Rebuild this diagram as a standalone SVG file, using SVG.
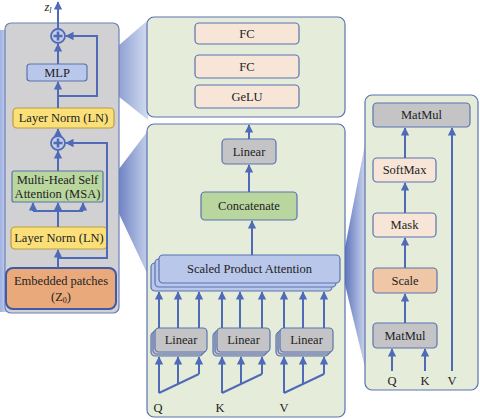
<svg xmlns="http://www.w3.org/2000/svg" width="480" height="419" viewBox="0 0 480 419">
<defs>
<linearGradient id="wedge" x1="0" y1="0" x2="1" y2="0">
<stop offset="0" stop-color="#4a62b2"/>
<stop offset="1" stop-color="#d2dcf1"/>
</linearGradient>
<linearGradient id="lstrip" x1="0" y1="0" x2="1" y2="0">
<stop offset="0" stop-color="#9fb1e0"/>
<stop offset="1" stop-color="#dde4f5"/>
</linearGradient>
<marker id="ah" viewBox="0 0 10 10" refX="9" refY="5" markerWidth="4.2" markerHeight="4.2" orient="auto" markerUnits="strokeWidth">
<path d="M0,0 L10,5 L0,10 z" fill="#4f6bb8"/>
</marker>
</defs>
<style>
text{font-size:12.5px;fill:#222;text-anchor:middle;dominant-baseline:central}
.panel{fill:#e5edda;stroke:#5a72b0;stroke-width:1.2}
.box{stroke:#5a72b0;stroke-width:1.2}
.gray{fill:#c4c4c6}
.peach{fill:#f7e5d8}
.orange{fill:#efc6a6}
.green{fill:#b9d69f}
.blue{fill:#b9c7ea}
.yellow{fill:#fbe07a;stroke:#b89d3e;stroke-width:1.2}
.ln{fill:none;stroke:#4f6bb8;stroke-width:2}
.arr{fill:none;stroke:#4f6bb8;stroke-width:2;marker-end:url(#ah)}
</style>

<!-- decorative wedges -->
<polygon points="0,30 7,30 10,312 0,312" fill="url(#lstrip)"/>
<polygon points="88,72 148,20 148,120" fill="url(#wedge)"/>
<polygon points="106,186 150,128 153,286" fill="url(#wedge)"/>
<polygon points="341,268 367,134 367,376" fill="url(#wedge)"/>

<g font-family="'Liberation Serif', 'DejaVu Serif', serif">
<!-- left panel -->
<g id="left-panel">
<rect x="5" y="23" width="114" height="290" rx="6" fill="#d1d1d3" stroke="#6b80b8" stroke-width="1.2"/>
</g>
<g id="zl-label"><text x="48" y="7" font-style="italic" font-size="13">z<tspan font-size="8" dy="3">l</tspan></text></g>
<g id="plus1">
<circle cx="58" cy="36" r="7" fill="#c6cde6" stroke="#4f6bb8" stroke-width="1.8"/>
<path d="M53.5,36 H62.5 M58,31.5 V40.5" stroke="#4f6bb8" stroke-width="2.6"/>
</g>
<g id="mlp"><rect class="box blue" x="27" y="64" width="60" height="17" rx="3" stroke="#3f5aa6"/><text x="57" y="72.5">MLP</text></g>
<g id="ln-upper"><rect class="yellow" x="13" y="108" width="101" height="20" rx="4"/><text x="63.5" y="118">Layer Norm (LN)</text></g>
<g id="plus2">
<circle cx="58" cy="143" r="7" fill="#c6cde6" stroke="#4f6bb8" stroke-width="1.8"/>
<path d="M53.5,143 H62.5 M58,138.5 V147.5" stroke="#4f6bb8" stroke-width="2.6"/>
</g>
<g id="msa"><rect class="box green" x="12" y="171" width="91" height="31" rx="2"/><text x="57.5" y="179.5">Multi-Head Self</text><text x="57.5" y="193.5">Attention (MSA)</text></g>
<g id="ln-lower"><rect class="yellow" x="11" y="227" width="96" height="22" rx="4"/><text x="59" y="238">Layer Norm (LN)</text></g>
<g id="embedded"><rect x="6" y="268" width="110" height="41" rx="7" fill="#eaa97b" stroke="#3f5aa6" stroke-width="2"/><text x="61" y="281">Embedded patches</text><text x="61" y="297">(Z<tspan font-size="8" dy="3">0</tspan><tspan dy="-3">)</tspan></text></g>

<!-- top panel (MLP detail) -->
<g id="mlp-panel"><rect class="panel" x="147" y="17" width="198" height="100" rx="7"/></g>
<g id="fc1"><rect class="box peach" x="195" y="23" width="104" height="21" rx="4"/><text x="247" y="33.5">FC</text></g>
<g id="fc2"><rect class="box peach" x="195" y="55" width="104" height="23" rx="4"/><text x="247" y="66.5">FC</text></g>
<g id="gelu"><rect class="box peach" x="195" y="85" width="104" height="23" rx="4"/><text x="247" y="96.5">GeLU</text></g>

<!-- middle panel (MSA detail) -->
<g id="msa-panel"><rect class="panel" x="147" y="124" width="198" height="293" rx="7"/></g>
<g id="linear-out"><rect class="box gray" x="222" y="139" width="54" height="25" rx="4"/><text x="249" y="151.5">Linear</text></g>
<g id="concat"><rect class="box green" x="201" y="192" width="96" height="28" rx="4"/><text x="249" y="206">Concatenate</text></g>
<g id="spa">
<rect class="box blue" x="151" y="263" width="181" height="28" rx="4"/>
<rect class="box blue" x="155" y="259" width="181" height="28" rx="4"/>
<rect class="box blue" x="159" y="255" width="181" height="28" rx="4"/>
<text x="249.5" y="269">Scaled Product Attention</text>
</g>
<g id="linear-q">
<rect class="box gray" x="151" y="332" width="52" height="24" rx="4"/>
<rect class="box gray" x="153" y="330" width="52" height="24" rx="4"/>
<rect class="box gray" x="155" y="328" width="52" height="24" rx="4"/>
<text x="181" y="340">Linear</text>
</g>
<g id="linear-k">
<rect class="box gray" x="213" y="332" width="53" height="24" rx="4"/>
<rect class="box gray" x="215" y="330" width="53" height="24" rx="4"/>
<rect class="box gray" x="217" y="328" width="53" height="24" rx="4"/>
<text x="243.5" y="340">Linear</text>
</g>
<g id="linear-v">
<rect class="box gray" x="276" y="332" width="53" height="24" rx="4"/>
<rect class="box gray" x="278" y="330" width="53" height="24" rx="4"/>
<rect class="box gray" x="280" y="328" width="53" height="24" rx="4"/>
<text x="306.5" y="340">Linear</text>
</g>
<g id="labels-mid"><text x="158" y="408">Q</text><text x="220" y="408">K</text><text x="284" y="408">V</text></g>

<!-- right panel (SPA detail) -->
<g id="spa-panel"><rect class="panel" x="365" y="95" width="113" height="295" rx="7"/></g>
<g id="matmul-top"><rect class="box gray" x="373" y="103" width="97" height="24" rx="4"/><text x="421.5" y="115">MatMul</text></g>
<g id="softmax"><rect class="box peach" x="373" y="158" width="63" height="24" rx="4"/><text x="404.5" y="170">SoftMax</text></g>
<g id="mask"><rect class="box peach" x="373" y="213" width="63" height="24" rx="4"/><text x="404.5" y="225">Mask</text></g>
<g id="scale"><rect class="box orange" x="373" y="268" width="64" height="25" rx="4"/><text x="405" y="280.5">Scale</text></g>
<g id="matmul-bot"><rect class="box gray" x="373" y="323" width="64" height="25" rx="4"/><text x="405" y="335.5">MatMul</text></g>
<g id="labels-right"><text x="392" y="381">Q</text><text x="425" y="381">K</text><text x="452" y="381">V</text></g>
</g>

<!-- connectors -->
<g id="connectors">
<path class="arr" d="M58,29 V2"/>
<path class="arr" d="M58,64 V44"/>
<path class="arr" d="M58,108 V82"/>
<path class="arr" d="M58,96 H97 V36 H66"/>
<path class="arr" d="M58,136 V129"/>
<path class="arr" d="M58,171 V151"/>
<path class="arr" d="M58,258 H107 V143 H66"/>
<path class="ln" d="M58,227 V211 M33,211 H83"/>
<path class="arr" d="M33,211 V203"/>
<path class="arr" d="M58,211 V203"/>
<path class="arr" d="M83,211 V203"/>
<path class="arr" d="M58,268 V250"/>

<path class="arr" d="M249,139 V125"/>
<path class="arr" d="M249,192 V165"/>
<path class="arr" d="M252,255 V221"/>

<path class="arr" d="M159,328 V292"/>
<path class="arr" d="M178,328 V292"/>
<path class="arr" d="M199,328 V292"/>
<path class="arr" d="M222,328 V292"/>
<path class="arr" d="M240,328 V292"/>
<path class="arr" d="M262,328 V292"/>
<path class="arr" d="M284,328 V292"/>
<path class="arr" d="M303,328 V292"/>
<path class="arr" d="M324,328 V292"/>

<path class="ln" d="M159,393 L199,374"/>
<path class="arr" d="M159,393 V357"/>
<path class="arr" d="M178,384 V357"/>
<path class="arr" d="M199,374 V357"/>
<path class="ln" d="M222,393 L262,374"/>
<path class="arr" d="M222,393 V357"/>
<path class="arr" d="M241,384 V357"/>
<path class="arr" d="M262,374 V357"/>
<path class="ln" d="M284,393 L324,374"/>
<path class="arr" d="M284,393 V357"/>
<path class="arr" d="M303,384 V357"/>
<path class="arr" d="M324,374 V357"/>

<path class="arr" d="M405,158 V128"/>
<path class="arr" d="M405,213 V183"/>
<path class="arr" d="M405,268 V238"/>
<path class="arr" d="M405,323 V294"/>
<path class="arr" d="M392,371 V349"/>
<path class="arr" d="M425,371 V349"/>
<path class="arr" d="M452,371 V128"/>
</g>
</svg>
